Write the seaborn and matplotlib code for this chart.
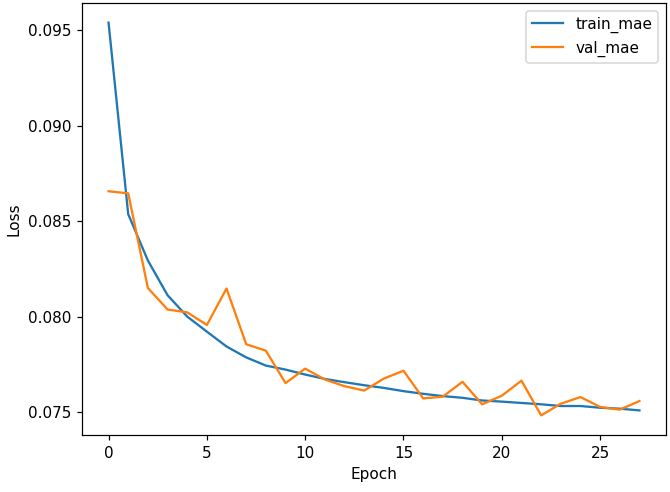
import numpy as np
import pandas as pd
import matplotlib
matplotlib.use("Agg")
import matplotlib.pyplot as plt
import seaborn as sns

epochs = list(range(28))
train_mae = [0.09541, 0.08537, 0.08294, 0.08112, 0.08000, 0.07921, 0.07843, 0.07786,
             0.07743, 0.07722, 0.07696, 0.07673, 0.07656, 0.07640, 0.07626, 0.07609,
             0.07595, 0.07583, 0.07574, 0.07560, 0.07554, 0.07547, 0.07540, 0.07531,
             0.07531, 0.07522, 0.07517, 0.07508]
val_mae = [0.08657, 0.08646, 0.08150, 0.08037, 0.08022, 0.07956, 0.08147, 0.07855,
           0.07821, 0.07651, 0.07727, 0.07670, 0.07635, 0.07612, 0.07675, 0.07716,
           0.07571, 0.07580, 0.07658, 0.07540, 0.07585, 0.07664, 0.07482, 0.07543,
           0.07578, 0.07526, 0.07512, 0.07557]
series_names = ["train_mae", "val_mae"]

df = pd.DataFrame({
    "Epoch": epochs * 2,
    "Loss": train_mae + val_mae,
    "series": [series_names[0]] * len(epochs) + [series_names[1]] * len(epochs),
})

DPI = 110
fig, ax = plt.subplots(figsize=(670 / DPI, 492 / DPI), dpi=DPI)
fig.subplots_adjust(left=82/670, right=666/670, top=1-3/492, bottom=1-435/492)
sns.lineplot(data=df, x="Epoch", y="Loss", hue="series",
             palette=["#1f77b4", "#ff7f0e"], ax=ax, linewidth=1.5)
ax.legend(title=None, loc="upper right")
ax.set_xlabel("Epoch")
ax.set_ylabel("Loss")
fig.savefig("out.png", dpi=DPI)
